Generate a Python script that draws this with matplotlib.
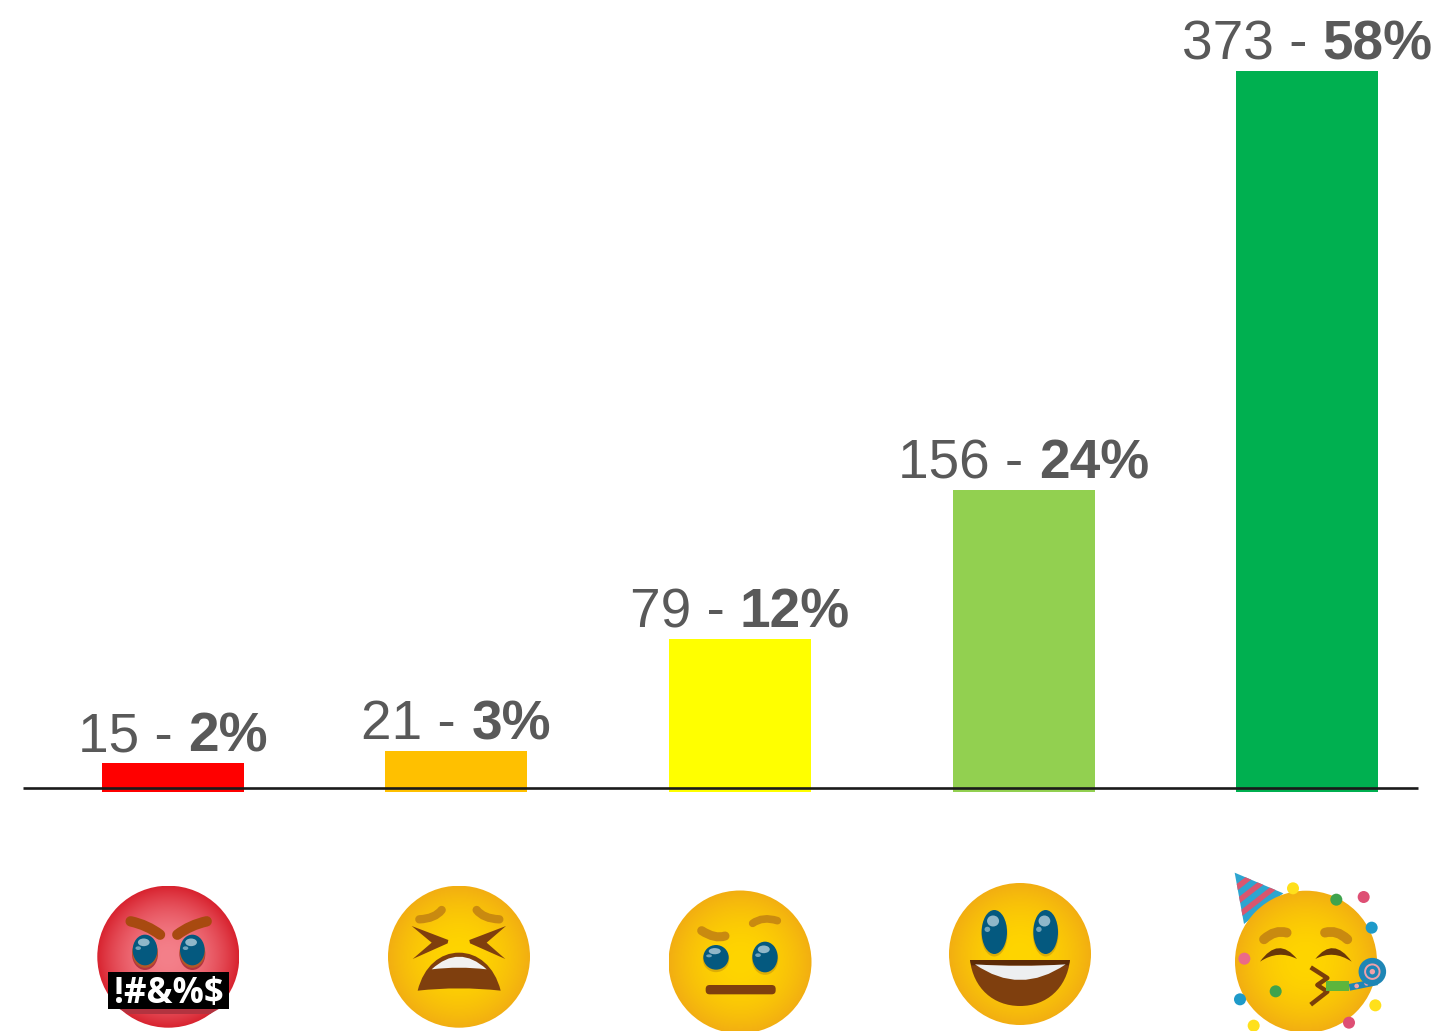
import numpy as np
import matplotlib
matplotlib.use("Agg")
import matplotlib.pyplot as plt
from matplotlib.patches import Circle, Ellipse, PathPatch, Polygon, Rectangle, FancyBboxPatch
from matplotlib.path import Path

plt.rcParams["font.family"] = ["Liberation Sans", "DejaVu Sans"]

# chart values
counts = [15, 21, 79, 156, 373]
percents = ["2%", "3%", "12%", "24%", "58%"]
bar_colors = ["#FF0000", "#FFC000", "#FFFF00", "#92D050", "#00B050"]

W, H = 1442, 1031
BASE_PX = 792        # pixel row of value 0
PX_PER_UNIT = 1.933  # 373 is 721 px tall
FIRST_PX = 172.5
STEP_PX = 283.7
BAR_PX = 142
FS = 39.6

BROWN = "#7F3F0E"
TAN = "#C98A10"
BLUE = "#04597F"

fig = plt.figure(figsize=(W / 100, H / 100), dpi=100)

ax = fig.add_axes([0, 0, 1, 1])
ax.set_xlim(-FIRST_PX / STEP_PX, (W - FIRST_PX) / STEP_PX)
ax.set_ylim(-(H - BASE_PX) / PX_PER_UNIT, BASE_PX / PX_PER_UNIT)
ax.axis("off")
xs = np.arange(len(counts))
ax.bar(xs, counts, width=BAR_PX / STEP_PX, color=bar_colors, zorder=1)

# value labels: regular count, bold share, centred together over the bar
renderer = fig.canvas.get_renderer()
for x, count, pct in zip(xs, counts, percents):
    left = f"{count} - "
    t1 = ax.annotate(left, (x, count), xytext=(0, 8.6), textcoords="offset points",
                     fontsize=FS, color="#595959", ha="left", va="baseline")
    t2 = ax.annotate(pct, (x, count), xytext=(0, 8.6), textcoords="offset points",
                     fontsize=FS, color="#595959", ha="left", va="baseline", fontweight="bold")
    w1 = t1.get_window_extent(renderer).width
    w2 = t2.get_window_extent(renderer).width
    total = (w1 + w2) * 72 / 100
    t1.set_position((-total / 2, 8.6))
    t2.set_position((-total / 2 + w1 * 72 / 100, 8.6))

# overlay in image pixels for the axis rule and the emoji row
ov = fig.add_axes([0, 0, 1, 1], facecolor="none")
ov.set_xlim(0, W)
ov.set_ylim(H, 0)
ov.axis("off")
ov.plot([23, 1418], [788, 788], color="#1A1A1A", lw=1.9, solid_capstyle="butt", zorder=5)


def disc(cx, cy, r, inner, outer):
    yy, xx = np.mgrid[-1:1:300j, -1:1:300j]
    d = np.clip(np.hypot(xx, yy), 0, 1)[..., None] ** 2
    c0 = np.array(matplotlib.colors.to_rgb(inner))
    c1 = np.array(matplotlib.colors.to_rgb(outer))
    im = ov.imshow(c0 * (1 - d) + c1 * d, extent=(cx - r, cx + r, cy + r, cy - r),
                   aspect="auto", zorder=6, interpolation="bilinear")
    im.set_clip_path(Circle((cx, cy), r, transform=ov.transData))
    ov.set_xlim(0, W)
    ov.set_ylim(H, 0)


def zoomed(ox, oy):
    return lambda pts: [(ox + a / 3, oy + b / 3) for a, b in pts]


def crescent(z, p0, c1, p1, c2, color, zorder=7):
    pts = z([p0, c1, p1, c2, p0])
    codes = [Path.MOVETO, Path.CURVE3, Path.CURVE3, Path.CURVE3, Path.CURVE3]
    ov.add_patch(PathPatch(Path(pts, codes), fc=color, ec="none", zorder=zorder))


def stroke(z, p0, c, p1, color, lw, zorder=7):
    path = Path(z([p0, c, p1]), [Path.MOVETO, Path.CURVE3, Path.CURVE3])
    ov.add_patch(PathPatch(path, fc="none", ec=color, lw=lw, capstyle="round", zorder=zorder))


def bulge(z, p0, top, p1, color, zorder=7):
    # closed shape: cubic arcs up to a top point then down, straight-ish base
    x0, y0 = p0
    x1, y1 = p1
    xt, yt = top
    pts = z([p0, (x0 + (xt - x0) * 0.15, y0 - (y0 - yt) * 0.65), (xt - (xt - x0) * 0.45, yt), top,
             (xt + (x1 - xt) * 0.45, yt), (x1 - (x1 - xt) * 0.15, y1 - (y1 - yt) * 0.65), p1,
             ((x0 + x1) / 2, y0 - 14), p0])
    codes = [Path.MOVETO] + [Path.CURVE4] * 6 + [Path.CURVE3, Path.CURVE3]
    ov.add_patch(PathPatch(Path(pts, codes), fc=color, ec="none", zorder=zorder))


def eye(z, x, y, rx, ry):
    (cx, cy), = z([(x, y)])
    rx, ry = rx / 3, ry / 3
    ov.add_patch(Ellipse((cx, cy + 2), 2 * rx + 1, 2 * ry + 1, fc="#B8860B", alpha=0.45, ec="none", zorder=7))
    ov.add_patch(Ellipse((cx, cy), 2 * rx, 2 * ry, fc=BLUE, ec="none", zorder=8))
    ov.add_patch(Ellipse((cx - rx * 0.1, cy - ry * 0.5), rx * 0.95, ry * 0.5, fc="#8FB7C9", ec="none", zorder=9))
    ov.add_patch(Ellipse((cx - rx * 0.55, cy - ry * 0.12), rx * 0.45, ry * 0.24, fc="#6FA3BA", ec="none", zorder=9))


def dot(z, x, y, r, color, zorder=9):
    (cx, cy), = z([(x, y)])
    ov.add_patch(Circle((cx, cy), r / 3, fc=color, ec="none", zorder=zorder))


# angry face with censored mouth
z = zoomed(60, 860)
disc(168.3, 956.7, 71, "#F4808A", "#D8232F")
stroke(z, (212, 184), (262, 195), (300, 224), "#A84A10", 7.5)
stroke(z, (440, 184), (390, 195), (352, 224), "#A84A10", 7.5)
ov.add_patch(Ellipse(z([(255, 282)])[0], 26, 32, fc="#B2333F", ec="none", zorder=7))
ov.add_patch(Ellipse(z([(397, 282)])[0], 26, 32, fc="#B2333F", ec="none", zorder=7))
eye(z, 255, 270, 37, 46)
eye(z, 397, 270, 37, 46)
ov.add_patch(Polygon(z([(175, 445), (480, 445), (450, 462), (205, 462)]), fc="#B2333F", ec="none", zorder=7))
(bx, by), (bx2, by2) = z([(145, 337), (507, 448)])
ov.add_patch(Rectangle((bx, by), bx2 - bx, by2 - by, fc="black", ec="none", zorder=8))
ov.text((bx + bx2) / 2, (by + by2) / 2 + 3, "!#&%$", color="white", fontsize=25, fontweight="bold",
        ha="center", va="center", family=["Open Sans", "DejaVu Sans"], zorder=9)

# tired face
z = zoomed(60, 860)
disc(459, 956.7, 71, "#FFD500", "#F2AE12")
stroke(z, (1078, 178), (1125, 176), (1145, 150), TAN, 6)
stroke(z, (1318, 178), (1270, 176), (1250, 150), TAN, 6)
ov.add_patch(Polygon(z([(1055, 198), (1165, 240), (1163, 250), (1058, 297), (1115, 248)]), fc=BROWN, ec="none", zorder=7))
ov.add_patch(Polygon(z([(1338, 198), (1228, 240), (1230, 250), (1336, 297), (1280, 248)]), fc=BROWN, ec="none", zorder=7))
bulge(z, (1073, 392), (1197, 278), (1322, 392), BROWN)
crescent(z, (1115, 328), (1197, 252), (1280, 328), (1197, 318), "#F1F1F1", zorder=8)

# neutral face with raised brow
z = zoomed(640, 860)
disc(740, 962, 71.5, "#FFD500", "#F2AE12")
stroke(z, (185, 212), (225, 238), (255, 228), TAN, 6.5)
stroke(z, (338, 190), (368, 168), (412, 182), TAN, 5.5)
eye(z, 228, 292, 38, 37)
eye(z, 375, 291, 38, 46)
(mx, my), (mx2, my2) = z([(197, 375), (407, 403)])
ov.add_patch(FancyBboxPatch((mx + 4, my + 4), mx2 - mx - 8, my2 - my - 8, boxstyle="round,pad=4",
                            fc=BROWN, ec="none", zorder=7))

# grinning face
z = zoomed(640, 860)
disc(1020, 954, 71, "#FFD500", "#F2AE12")
eye(z, 1063, 216, 38, 66)
eye(z, 1217, 216, 37, 66)
grin = z([(990, 300), (1000, 385), (1060, 438), (1140, 438), (1220, 438), (1280, 385), (1290, 300), (990, 300)])
ov.add_patch(PathPatch(Path(grin, [Path.MOVETO] + [Path.CURVE4] * 6 + [Path.CLOSEPOLY]), fc=BROWN, ec="none", zorder=7))
crescent(z, (990, 300), (1140, 322), (1290, 300), (1140, 310), "#5C2A06", zorder=8)
ov.add_patch(Polygon(z([(990, 300), (1290, 300), (1286, 316), (994, 316)]), fc="#5C2A06", ec="none", zorder=8))
crescent(z, (1005, 313), (1140, 407), (1277, 313), (1140, 322), "#EDEFF1", zorder=9)

# party face
z = zoomed(1200, 860)
tip, base_a, base_b = np.array((104, 38)), np.array((250, 100)), np.array((132, 192))
ov.add_patch(Polygon(z([tuple(tip), tuple(base_a), tuple(base_b)]), fc="#2DA5D0", ec="none", zorder=5.5))
for t0, t1 in [(0.22, 0.34), (0.47, 0.59), (0.72, 0.84)]:
    band = [tip + (base_a - tip) * t0, tip + (base_a - tip) * t1, tip + (base_b - tip) * t1, tip + (base_b - tip) * t0]
    ov.add_patch(Polygon(z([tuple(p) for p in band]), fc="#D9566F", ec="none", zorder=5.6))
disc(1306, 961.7, 71, "#FFD500", "#F2AE12")
for x, y, r, c in [(279, 85, 18, "#FFE01B"), (409, 119, 18, "#3FA34D"), (491, 111, 18, "#DE4F74"),
                   (515, 203, 18, "#1E9AC9"), (133, 296, 18, "#EB6A88"), (227, 394, 18, "#3FA34D"),
                   (120, 418, 18, "#1E9AC9"), (161, 497, 18, "#FFE01B"), (526, 436, 18, "#FFE01B"),
                   (447, 488, 18, "#DE4F74")]:
    dot(z, x, y, r, c)
stroke(z, (192, 238), (225, 208), (260, 218), TAN, 7)
stroke(z, (442, 238), (410, 208), (375, 218), TAN, 7)
crescent(z, (180, 305), (235, 228), (291, 297), (235, 268), "#6A3708")
crescent(z, (455, 305), (400, 228), (346, 297), (400, 268), "#6A3708")
kiss = z([(332, 322), (382, 354), (352, 375), (382, 395), (332, 434)])
ov.add_patch(Polygon(kiss, closed=False, fc="none", ec="#7A3E0A", lw=3.2, joinstyle="round", zorder=7))
ov.add_patch(Polygon(z([(446, 372), (520, 358), (535, 375), (450, 392)]), fc="#1E86B5", ec="none", zorder=8))
for x, y in [(470, 378), (500, 370), (525, 365)]:
    dot(z, x, y, 7, "#F0A0A8")
(gx, gy), (gx2, gy2) = z([(378, 364), (446, 392)])
ov.add_patch(Rectangle((gx, gy), gx2 - gx, gy2 - gy, fc="#5DB53C", ec="none", zorder=9))
(cx, cy), = z([(517, 335)])
ov.add_patch(Circle((cx, cy), 11, fc="#F0A0A8", ec="#1E86B5", lw=4, zorder=9))
ov.add_patch(Circle((cx, cy), 4.5, fc="none", ec="#1E86B5", lw=2.5, zorder=10))

fig.savefig("out.png", dpi=100, facecolor="white")
